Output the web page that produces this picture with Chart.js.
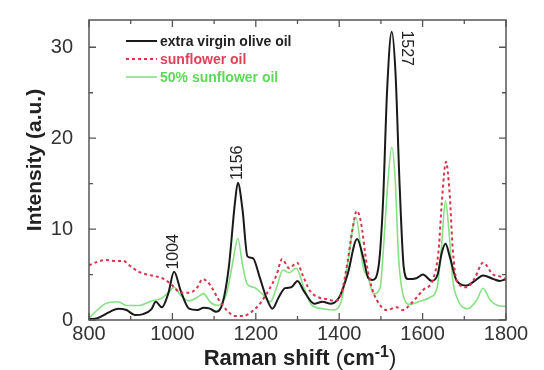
<!DOCTYPE html>
<html>
<head>
<meta charset="utf-8">
<script src="https://cdn.jsdelivr.net/npm/chart.js@4"></script>
<style>
  body { margin: 0; background: #fff; }
</style>
</head>
<body>
<canvas id="raman" width="544" height="370"></canvas>
<script>
// Raman shift (cm-1) and intensity (a.u.)
var oliveX = [800, 820, 850, 870, 890, 910, 930, 950, 960, 975, 990, 1004, 1020, 1040, 1060, 1075, 1090, 1105, 1120, 1135, 1150, 1157, 1168, 1180, 1193, 1210, 1225, 1240, 1255, 1270, 1285, 1300, 1315, 1340, 1360, 1380, 1400, 1420, 1443, 1458, 1470, 1480, 1495, 1505, 1515, 1526, 1535, 1545, 1555, 1565, 1585, 1601, 1622, 1636, 1646, 1655, 1665, 1682, 1706, 1725, 1745, 1770, 1785, 1800]
var oliveY = [0.1, 0.2, 0.9, 1.25, 1.1, 0.55, 0.65, 1.2, 2.0, 1.4, 2.9, 5.3, 3.2, 1.25, 1.1, 1.35, 1.25, 0.9, 1.8, 5.7, 12.9, 15.1, 12.2, 7.0, 6.8, 4.6, 2.5, 1.25, 2.5, 3.5, 3.6, 4.3, 3.2, 1.8, 2.0, 1.8, 2.5, 5.0, 8.9, 6.8, 4.6, 4.4, 6.1, 12.9, 25.4, 31.7, 27.2, 14.7, 5.7, 4.5, 4.6, 5.0, 4.3, 5.0, 7.4, 8.4, 7.0, 4.3, 3.8, 4.3, 4.9, 4.5, 4.3, 4.5]

var sunX = [800, 820, 840, 860, 882, 900, 920, 940, 960, 980, 1000, 1020, 1040, 1060, 1072, 1090, 1110, 1130, 1150, 1170, 1190, 1210, 1230, 1250, 1263, 1280, 1299, 1312, 1330, 1350, 1370, 1390, 1405, 1420, 1432, 1442, 1452, 1466, 1478, 1490, 1514, 1538, 1553, 1570, 1601, 1625, 1638, 1647, 1656, 1665, 1672, 1682, 1706, 1725, 1745, 1769, 1785, 1800]
var sunY = [6.0, 6.4, 6.6, 6.5, 6.5, 5.9, 5.3, 5.0, 4.8, 4.5, 3.8, 3.0, 3.0, 3.6, 4.5, 3.9, 2.3, 1.1, 0.45, 0.45, 0.9, 1.8, 3.2, 5.0, 6.7, 5.7, 6.3, 5.0, 3.2, 2.5, 2.3, 2.1, 2.9, 6.4, 10.0, 12.0, 10.8, 6.1, 3.6, 2.2, 1.1, 1.4, 1.1, 1.7, 3.3, 4.5, 7.5, 13.5, 17.4, 13.8, 8.0, 4.3, 3.6, 4.6, 6.3, 5.0, 4.8, 4.5]

var mixX = [800, 820, 840, 870, 890, 920, 950, 970, 990, 1004, 1020, 1040, 1060, 1075, 1090, 1110, 1130, 1145, 1157, 1168, 1180, 1195, 1215, 1235, 1250, 1265, 1280, 1297, 1315, 1335, 1360, 1385, 1405, 1420, 1440, 1458, 1470, 1482, 1498, 1506, 1516, 1526, 1534, 1542, 1550, 1570, 1590, 1618, 1635, 1645, 1655, 1664, 1672, 1682, 1705, 1715, 1730, 1745, 1762, 1780, 1800]
var mixY = [0.2, 1.1, 1.8, 2.0, 1.6, 1.6, 2.1, 2.3, 3.0, 3.6, 2.7, 2.1, 2.5, 2.9, 2.0, 1.6, 2.9, 6.4, 9.0, 6.1, 3.9, 3.6, 2.9, 2.0, 3.6, 5.5, 5.2, 5.7, 3.6, 1.6, 1.25, 1.1, 2.1, 6.1, 11.3, 5.7, 4.6, 2.9, 3.5, 7.8, 14.7, 19.0, 15.7, 7.2, 3.5, 1.7, 2.0, 2.5, 3.6, 7.9, 13.1, 9.3, 4.5, 2.5, 1.25, 1.4, 2.2, 3.5, 2.2, 1.6, 1.5]

var xTicks = [800, 1000, 1200, 1400, 1600, 1800]
var xMinor = [900, 1100, 1300, 1500, 1700]
var yTicks = [0, 10, 20, 30]
var yMinor = [5, 15, 25]

// peak labels: text, shift, intensity of label centre
var peakText = ['1004', '1156', '1527']
var peakX = [1002, 1157, 1560]
var peakY = [7.5, 17.3, 29.9]

function pts(xs, ys) {
  return xs.map(function (x, i) { return { x: x, y: ys[i] } })
}

var FONT = "'Liberation Sans', Arial, sans-serif"

var decorations = {
  id: 'decorations',
  afterDraw: function (chart) {
    var ctx = chart.ctx
    var a = chart.chartArea
    var xs = chart.scales.x, ys = chart.scales.y
    ctx.save()

    // frame
    ctx.strokeStyle = '#555'
    ctx.lineWidth = 1.5
    ctx.strokeRect(a.left, a.top, a.right - a.left, a.bottom - a.top)

    // inward ticks on all four sides
    ctx.lineWidth = 1.3
    function xtick(v, len) {
      var p = xs.getPixelForValue(v)
      ctx.beginPath()
      ctx.moveTo(p, a.bottom); ctx.lineTo(p, a.bottom - len)
      ctx.moveTo(p, a.top); ctx.lineTo(p, a.top + len)
      ctx.stroke()
    }
    function ytick(v, len) {
      var p = ys.getPixelForValue(v)
      ctx.beginPath()
      ctx.moveTo(a.left, p); ctx.lineTo(a.left + len, p)
      ctx.moveTo(a.right, p); ctx.lineTo(a.right - len, p)
      ctx.stroke()
    }
    xTicks.forEach(function (v) { xtick(v, 7) })
    xMinor.forEach(function (v) { xtick(v, 4) })
    yTicks.forEach(function (v) { ytick(v, 7) })
    yMinor.forEach(function (v) { ytick(v, 4) })

    // peak labels
    ctx.fillStyle = '#222'
    ctx.font = '16px ' + FONT
    ctx.textAlign = 'center'
    ctx.textBaseline = 'middle'
    peakText.forEach(function (t, i) {
      ctx.save()
      ctx.translate(xs.getPixelForValue(peakX[i]), ys.getPixelForValue(peakY[i]))
      ctx.rotate(i === 2 ? Math.PI / 2 : -Math.PI / 2)
      ctx.fillText(t, 0, 0)
      ctx.restore()
    })

    // legend
    var rows = [41, 59, 77]
    var textCol = ['#222', '#e0405a', '#5fd85a']
    ctx.font = 'bold 14px ' + FONT
    ctx.textAlign = 'left'
    chart.data.datasets.forEach(function (ds, i) {
      ctx.strokeStyle = ds.borderColor
      ctx.lineWidth = ds.borderWidth
      ctx.setLineDash(ds.borderDash || [])
      ctx.beginPath()
      ctx.moveTo(126, rows[i]); ctx.lineTo(157, rows[i])
      ctx.stroke()
      ctx.setLineDash([])
      ctx.fillStyle = textCol[i]
      ctx.fillText(ds.label, 160, rows[i] + 1)
    })

    // y title
    ctx.fillStyle = '#222'
    ctx.save()
    ctx.translate(35, 160)
    ctx.rotate(-Math.PI / 2)
    ctx.textAlign = 'center'
    ctx.font = 'bold 21px ' + FONT
    ctx.fillText('Intensity (a.u.)', 0, 0)
    ctx.restore()

    // x title with superscript
    var parts = [
      ['Raman shift ', 'bold 22px ', 0],
      ['(', '22px ', 0],
      ['cm', 'bold 22px ', 0],
      ['-1', 'bold 16px ', -8],
      [')', '22px ', 0]
    ]
    var w = 0
    parts.forEach(function (p) { ctx.font = p[1] + FONT; w += ctx.measureText(p[0]).width })
    var x = 300 - w / 2
    ctx.textBaseline = 'alphabetic'
    ctx.textAlign = 'left'
    parts.forEach(function (p) {
      ctx.font = p[1] + FONT
      ctx.fillText(p[0], x, 365 + p[2])
      x += ctx.measureText(p[0]).width
    })
    ctx.restore()
  }
}

new Chart(document.getElementById('raman'), {
  type: 'line',
  data: {
    datasets: [
      {
        label: 'extra virgin olive oil',
        data: pts(oliveX, oliveY),
        borderColor: '#1a1a1a',
        borderWidth: 2,
        order: 1
      },
      {
        label: 'sunflower oil',
        data: pts(sunX, sunY),
        borderColor: '#d8334f',
        borderWidth: 2,
        borderDash: [3, 3],
        order: 0
      },
      {
        label: '50% sunflower oil',
        data: pts(mixX, mixY),
        borderColor: 'rgba(110, 220, 110, 0.85)',
        borderWidth: 1.6,
        order: 2
      }
    ]
  },
  options: {
    responsive: false,
    animation: false,
    elements: { point: { radius: 0 }, line: { cubicInterpolationMode: 'monotone' } },
    layout: { padding: { top: 13, right: 38, left: 0, bottom: 0 } },
    plugins: { legend: { display: false }, tooltip: { enabled: false } },
    scales: {
      x: {
        type: 'linear',
        min: 800,
        max: 1800,
        afterFit: function (s) { s.height = 50 },
        afterBuildTicks: function (s) { s.ticks = xTicks.map(function (v) { return { value: v } }) },
        grid: { display: false },
        border: { display: false },
        ticks: {
          color: '#333', padding: -6, maxRotation: 0, autoSkip: false,
          font: { family: FONT, size: 20 },
          callback: function (v) { return String(v) }
        }
      },
      y: {
        min: 0,
        max: 33,
        afterFit: function (s) { s.width = 89 },
        afterBuildTicks: function (s) { s.ticks = yTicks.map(function (v) { return { value: v } }) },
        grid: { display: false },
        border: { display: false },
        ticks: { color: '#333', padding: 8, font: { family: FONT, size: 20 } }
      }
    }
  },
  plugins: [decorations]
})
</script>
</body>
</html>
